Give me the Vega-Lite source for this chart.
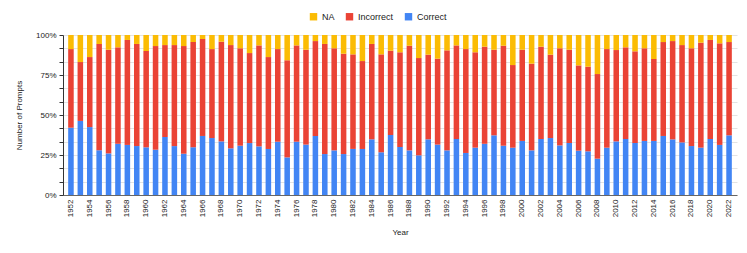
{
  "$schema": "https://vega.github.io/schema/vega-lite/v6.json",
  "width": 674,
  "height": 160,
  "autosize": "none",
  "padding": {"left": 63, "right": 10, "top": 35, "bottom": 58},
  "background": "white",
  "config": {
    "font": "Liberation Sans",
    "view": {"stroke": null},
    "axis": {"labelFont": "Liberation Sans", "titleFont": "Liberation Sans", "labelFontSize": 8, "titleFontSize": 8, "titleFontWeight": "normal", "labelColor": "#222222", "titleColor": "#222222"}
  },
  "data": {"values": [
{"year":1952,"c":"Correct","v":42.1},{"year":1952,"c":"Incorrect","v":49.2},{"year":1952,"c":"NA","v":8.8},
{"year":1953,"c":"Correct","v":46.3},{"year":1953,"c":"Incorrect","v":36.8},{"year":1953,"c":"NA","v":16.9},
{"year":1954,"c":"Correct","v":42.5},{"year":1954,"c":"Incorrect","v":43.8},{"year":1954,"c":"NA","v":13.8},
{"year":1955,"c":"Correct","v":27.9},{"year":1955,"c":"Incorrect","v":66.5},{"year":1955,"c":"NA","v":5.6},
{"year":1956,"c":"Correct","v":26.0},{"year":1956,"c":"Incorrect","v":64.8},{"year":1956,"c":"NA","v":9.2},
{"year":1957,"c":"Correct","v":32.0},{"year":1957,"c":"Incorrect","v":60.3},{"year":1957,"c":"NA","v":7.7},
{"year":1958,"c":"Correct","v":31.3},{"year":1958,"c":"Incorrect","v":65.6},{"year":1958,"c":"NA","v":3.1},
{"year":1959,"c":"Correct","v":30.6},{"year":1959,"c":"Incorrect","v":63.8},{"year":1959,"c":"NA","v":5.6},
{"year":1960,"c":"Correct","v":29.8},{"year":1960,"c":"Incorrect","v":60.2},{"year":1960,"c":"NA","v":10.0},
{"year":1961,"c":"Correct","v":28.3},{"year":1961,"c":"Incorrect","v":64.8},{"year":1961,"c":"NA","v":6.9},
{"year":1962,"c":"Correct","v":36.3},{"year":1962,"c":"Incorrect","v":57.5},{"year":1962,"c":"NA","v":6.3},
{"year":1963,"c":"Correct","v":30.6},{"year":1963,"c":"Incorrect","v":63.2},{"year":1963,"c":"NA","v":6.3},
{"year":1964,"c":"Correct","v":25.8},{"year":1964,"c":"Incorrect","v":67.3},{"year":1964,"c":"NA","v":6.9},
{"year":1965,"c":"Correct","v":29.8},{"year":1965,"c":"Incorrect","v":65.8},{"year":1965,"c":"NA","v":4.4},
{"year":1966,"c":"Correct","v":36.9},{"year":1966,"c":"Incorrect","v":60.6},{"year":1966,"c":"NA","v":2.5},
{"year":1967,"c":"Correct","v":35.6},{"year":1967,"c":"Incorrect","v":55.6},{"year":1967,"c":"NA","v":8.8},
{"year":1968,"c":"Correct","v":33.5},{"year":1968,"c":"Incorrect","v":62.3},{"year":1968,"c":"NA","v":4.2},
{"year":1969,"c":"Correct","v":29.2},{"year":1969,"c":"Incorrect","v":64.6},{"year":1969,"c":"NA","v":6.3},
{"year":1970,"c":"Correct","v":30.8},{"year":1970,"c":"Incorrect","v":60.9},{"year":1970,"c":"NA","v":8.3},
{"year":1971,"c":"Correct","v":32.5},{"year":1971,"c":"Incorrect","v":56.3},{"year":1971,"c":"NA","v":11.3},
{"year":1972,"c":"Correct","v":30.4},{"year":1972,"c":"Incorrect","v":63.1},{"year":1972,"c":"NA","v":6.5},
{"year":1973,"c":"Correct","v":28.8},{"year":1973,"c":"Incorrect","v":57.5},{"year":1973,"c":"NA","v":13.8},
{"year":1974,"c":"Correct","v":33.3},{"year":1974,"c":"Incorrect","v":57.9},{"year":1974,"c":"NA","v":8.8},
{"year":1975,"c":"Correct","v":23.5},{"year":1975,"c":"Incorrect","v":60.7},{"year":1975,"c":"NA","v":15.8},
{"year":1976,"c":"Correct","v":33.3},{"year":1976,"c":"Incorrect","v":60.2},{"year":1976,"c":"NA","v":6.5},
{"year":1977,"c":"Correct","v":31.5},{"year":1977,"c":"Incorrect","v":59.3},{"year":1977,"c":"NA","v":9.2},
{"year":1978,"c":"Correct","v":36.9},{"year":1978,"c":"Incorrect","v":59.4},{"year":1978,"c":"NA","v":3.8},
{"year":1979,"c":"Correct","v":25.6},{"year":1979,"c":"Incorrect","v":68.8},{"year":1979,"c":"NA","v":5.6},
{"year":1980,"c":"Correct","v":27.9},{"year":1980,"c":"Incorrect","v":63.8},{"year":1980,"c":"NA","v":8.3},
{"year":1981,"c":"Correct","v":25.6},{"year":1981,"c":"Incorrect","v":62.7},{"year":1981,"c":"NA","v":11.7},
{"year":1982,"c":"Correct","v":28.8},{"year":1982,"c":"Incorrect","v":59.1},{"year":1982,"c":"NA","v":12.1},
{"year":1983,"c":"Correct","v":28.8},{"year":1983,"c":"Incorrect","v":55.0},{"year":1983,"c":"NA","v":16.3},
{"year":1984,"c":"Correct","v":34.8},{"year":1984,"c":"Incorrect","v":59.6},{"year":1984,"c":"NA","v":5.6},
{"year":1985,"c":"Correct","v":26.7},{"year":1985,"c":"Incorrect","v":61.2},{"year":1985,"c":"NA","v":12.1},
{"year":1986,"c":"Correct","v":37.5},{"year":1986,"c":"Incorrect","v":52.7},{"year":1986,"c":"NA","v":9.8},
{"year":1987,"c":"Correct","v":30.0},{"year":1987,"c":"Incorrect","v":59.2},{"year":1987,"c":"NA","v":10.8},
{"year":1988,"c":"Correct","v":27.9},{"year":1988,"c":"Incorrect","v":65.4},{"year":1988,"c":"NA","v":6.7},
{"year":1989,"c":"Correct","v":24.8},{"year":1989,"c":"Incorrect","v":60.8},{"year":1989,"c":"NA","v":14.4},
{"year":1990,"c":"Correct","v":34.8},{"year":1990,"c":"Incorrect","v":52.9},{"year":1990,"c":"NA","v":12.3},
{"year":1991,"c":"Correct","v":31.5},{"year":1991,"c":"Incorrect","v":53.7},{"year":1991,"c":"NA","v":14.8},
{"year":1992,"c":"Correct","v":27.9},{"year":1992,"c":"Incorrect","v":62.5},{"year":1992,"c":"NA","v":9.6},
{"year":1993,"c":"Correct","v":35.0},{"year":1993,"c":"Incorrect","v":58.5},{"year":1993,"c":"NA","v":6.5},
{"year":1994,"c":"Correct","v":26.3},{"year":1994,"c":"Incorrect","v":65.0},{"year":1994,"c":"NA","v":8.8},
{"year":1995,"c":"Correct","v":29.6},{"year":1995,"c":"Incorrect","v":59.6},{"year":1995,"c":"NA","v":10.8},
{"year":1996,"c":"Correct","v":32.0},{"year":1996,"c":"Incorrect","v":60.7},{"year":1996,"c":"NA","v":7.3},
{"year":1997,"c":"Correct","v":37.3},{"year":1997,"c":"Incorrect","v":53.5},{"year":1997,"c":"NA","v":9.2},
{"year":1998,"c":"Correct","v":30.8},{"year":1998,"c":"Incorrect","v":62.5},{"year":1998,"c":"NA","v":6.7},
{"year":1999,"c":"Correct","v":29.6},{"year":1999,"c":"Incorrect","v":51.7},{"year":1999,"c":"NA","v":18.8},
{"year":2000,"c":"Correct","v":33.8},{"year":2000,"c":"Incorrect","v":57.0},{"year":2000,"c":"NA","v":9.2},
{"year":2001,"c":"Correct","v":27.9},{"year":2001,"c":"Incorrect","v":54.2},{"year":2001,"c":"NA","v":17.9},
{"year":2002,"c":"Correct","v":35.0},{"year":2002,"c":"Incorrect","v":57.7},{"year":2002,"c":"NA","v":7.3},
{"year":2003,"c":"Correct","v":35.6},{"year":2003,"c":"Incorrect","v":52.1},{"year":2003,"c":"NA","v":12.3},
{"year":2004,"c":"Correct","v":31.0},{"year":2004,"c":"Incorrect","v":60.7},{"year":2004,"c":"NA","v":8.3},
{"year":2005,"c":"Correct","v":32.5},{"year":2005,"c":"Incorrect","v":58.3},{"year":2005,"c":"NA","v":9.2},
{"year":2006,"c":"Correct","v":27.7},{"year":2006,"c":"Incorrect","v":53.3},{"year":2006,"c":"NA","v":19.0},
{"year":2007,"c":"Correct","v":27.3},{"year":2007,"c":"Incorrect","v":52.9},{"year":2007,"c":"NA","v":19.8},
{"year":2008,"c":"Correct","v":22.7},{"year":2008,"c":"Incorrect","v":52.9},{"year":2008,"c":"NA","v":24.4},
{"year":2009,"c":"Correct","v":29.6},{"year":2009,"c":"Incorrect","v":61.7},{"year":2009,"c":"NA","v":8.8},
{"year":2010,"c":"Correct","v":33.5},{"year":2010,"c":"Incorrect","v":57.1},{"year":2010,"c":"NA","v":9.4},
{"year":2011,"c":"Correct","v":35.0},{"year":2011,"c":"Incorrect","v":57.3},{"year":2011,"c":"NA","v":7.7},
{"year":2012,"c":"Correct","v":32.5},{"year":2012,"c":"Incorrect","v":57.3},{"year":2012,"c":"NA","v":10.2},
{"year":2013,"c":"Correct","v":33.8},{"year":2013,"c":"Incorrect","v":57.9},{"year":2013,"c":"NA","v":8.3},
{"year":2014,"c":"Correct","v":33.8},{"year":2014,"c":"Incorrect","v":51.2},{"year":2014,"c":"NA","v":15.0},
{"year":2015,"c":"Correct","v":36.9},{"year":2015,"c":"Incorrect","v":58.7},{"year":2015,"c":"NA","v":4.4},
{"year":2016,"c":"Correct","v":34.8},{"year":2016,"c":"Incorrect","v":61.5},{"year":2016,"c":"NA","v":3.8},
{"year":2017,"c":"Correct","v":32.9},{"year":2017,"c":"Incorrect","v":60.9},{"year":2017,"c":"NA","v":6.3},
{"year":2018,"c":"Correct","v":30.6},{"year":2018,"c":"Incorrect","v":61.1},{"year":2018,"c":"NA","v":8.3},
{"year":2019,"c":"Correct","v":29.6},{"year":2019,"c":"Incorrect","v":65.6},{"year":2019,"c":"NA","v":4.8},
{"year":2020,"c":"Correct","v":35.0},{"year":2020,"c":"Incorrect","v":61.9},{"year":2020,"c":"NA","v":3.1},
{"year":2021,"c":"Correct","v":31.3},{"year":2021,"c":"Incorrect","v":63.5},{"year":2021,"c":"NA","v":5.2},
{"year":2022,"c":"Correct","v":37.3},{"year":2022,"c":"Incorrect","v":58.3},{"year":2022,"c":"NA","v":4.4}
  ]},
  "mark": {"type": "bar"},
  "encoding": {
    "x": {
      "field": "year", "type": "ordinal", "title": "Year",
      "scale": {"paddingInner": 0.41, "paddingOuter": 0.55},
      "axis": {
        "values": [1952,1954,1956,1958,1960,1962,1964,1966,1968,1970,1972,1974,1976,1978,1980,1982,1984,1986,1988,1990,1992,1994,1996,1998,2000,2002,2004,2006,2008,2010,2012,2014,2016,2018,2020,2022],
        "labelAngle": -90, "labelPadding": 4, "ticks": false, "domainColor": "#666666", "grid": false, "titlePadding": 12
      }
    },
    "y": {
      "field": "v", "type": "quantitative", "stack": "normalize", "title": "Number of Prompts",
      "scale": {"domain": [0, 1], "nice": false},
      "axis": {
        "values": [0, 0.08333333, 0.16666667, 0.25, 0.33333333, 0.41666667, 0.5, 0.58333333, 0.66666667, 0.75, 0.83333333, 0.91666667, 1],
        "labelExpr": "abs(datum.value*4 - round(datum.value*4)) < 0.001 ? format(datum.value, '.0%') : ''",
        "gridColor": "#e3e3e3", "domainColor": "#333333", "tickColor": "#333333", "tickSize": 4, "labelPadding": 3, "titlePadding": 12
      }
    },
    "color": {
      "field": "c", "type": "nominal", "title": null,
      "scale": {"domain": ["NA", "Incorrect", "Correct"], "range": ["#FBBC04", "#EA4335", "#4285F4"]},
      "legend": {"orient": "none", "legendX": 246, "legendY": -23, "direction": "horizontal", "symbolType": "square", "symbolSize": 55, "labelFontSize": 9, "labelFont": "Liberation Sans", "columnPadding": 10, "symbolStrokeWidth": 0, "labelColor": "#222222"}
    },
    "order": {"field": "c", "sort": "ascending"}
  }
}
